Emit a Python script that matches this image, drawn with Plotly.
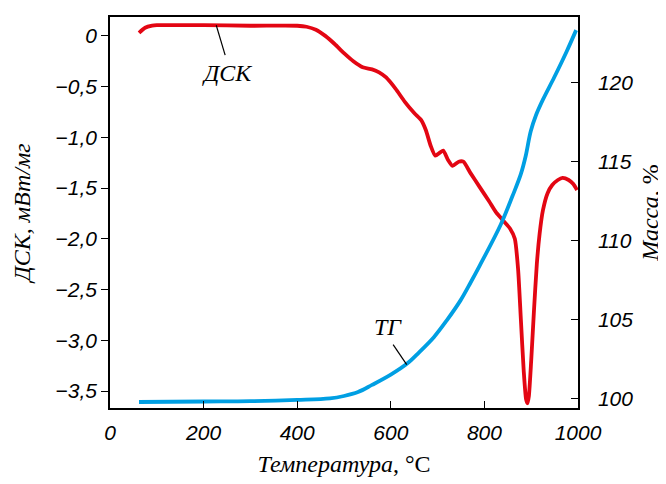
import plotly.graph_objects as go

# DSC curve (left axis), mW/mg
dsc_t = [62, 75, 90, 100, 200, 300, 400, 420, 440, 460, 480, 500, 520, 540, 560, 575, 590, 610, 630, 650, 665, 675, 685, 695, 705, 712, 722, 732, 745, 755, 770, 790, 810, 825, 840, 855, 865, 872, 878, 884, 889, 892, 895, 900, 906, 912, 918, 925, 935, 945, 957, 967, 980, 990, 998]
dsc_v = [0.03, 0.08, 0.10, 0.105, 0.105, 0.10, 0.10, 0.09, 0.06, 0.0, -0.08, -0.17, -0.25, -0.31, -0.33, -0.36, -0.41, -0.52, -0.65, -0.76, -0.83, -0.93, -1.08, -1.18, -1.15, -1.13, -1.22, -1.28, -1.24, -1.24, -1.35, -1.49, -1.63, -1.74, -1.82, -1.90, -2.00, -2.3, -2.8, -3.3, -3.58, -3.62, -3.55, -3.2, -2.7, -2.25, -1.95, -1.72, -1.55, -1.47, -1.42, -1.40, -1.42, -1.46, -1.52]

# TG curve (right axis), mass %
tg_t = [62, 200, 300, 400, 470, 500, 530, 560, 600, 635, 660, 692, 720, 749, 770, 790, 835, 860, 878, 888, 899, 910, 925, 949, 975, 996]
tg_v = [99.77, 99.8, 99.82, 99.9, 100.0, 100.15, 100.4, 100.85, 101.5, 102.2, 102.9, 103.87, 104.95, 106.2, 107.3, 108.4, 111.0, 112.8, 114.2, 115.3, 116.9, 117.9, 118.9, 120.3, 121.9, 123.3]

x_ticks = [0, 200, 400, 600, 800, 1000]
y_ticks = [0, -0.5, -1.0, -1.5, -2.0, -2.5, -3.0, -3.5]
y_labels = ["0", "−0,5", "−1,0", "−1,5", "−2,0", "−2,5", "−3,0", "−3,5"]
y2_ticks = [100, 105, 110, 115, 120]

RED = "#e30613"
BLUE = "#009fe3"

fig = go.Figure()
fig.add_trace(go.Scatter(x=dsc_t, y=dsc_v, mode="lines", line=dict(color=RED, width=3.8, shape="spline", smoothing=0.6), yaxis="y", showlegend=False))
fig.add_trace(go.Scatter(x=tg_t, y=tg_v, mode="lines", line=dict(color=BLUE, width=3.8, shape="spline", smoothing=1.0), yaxis="y2", showlegend=False))

tickfont = dict(family="Liberation Sans", size=21, color="black", style="italic")
titlefont = dict(family="Liberation Serif", size=24, color="black")

fig.update_layout(
    width=666, height=484,
    margin=dict(l=102, r=96, t=7, b=84),
    plot_bgcolor="white", paper_bgcolor="white",
    xaxis=dict(range=[0, 1000], tickvals=x_ticks, ticks="inside", ticklen=7, tickcolor="black",
               showline=True, linecolor="black", linewidth=1.5, mirror=True, showgrid=False, zeroline=False,
               tickfont=tickfont, ticklabelstandoff=5,
               title=dict(text="<i>Температура</i>, °C", font=titlefont, standoff=12)),
    yaxis=dict(range=[-3.667, 0.186], tickvals=y_ticks, ticktext=y_labels, ticks="outside", ticklen=7, tickcolor="black",
               showline=True, linecolor="black", linewidth=1.5, showgrid=False, zeroline=False,
               tickfont=tickfont, ticklabelstandoff=0,
               title=dict(text="<i>ДСК, мВт/мг</i>", font=titlefont, standoff=18)),
    yaxis2=dict(range=[99.39, 124.13], tickvals=y2_ticks, ticks="inside", ticklen=7, tickcolor="black",
                overlaying="y", side="right", showline=True, linecolor="black", linewidth=1.5,
                showgrid=False, zeroline=False, tickfont=tickfont, ticklabelstandoff=14,
                title=dict(text="<i>Масса</i>, %", font=titlefont, standoff=9)),
)

# leader lines
fig.add_shape(type="line", xref="x", yref="y", x0=227, y0=0.105, x1=246, y1=-0.19, line=dict(color="black", width=1.2))
fig.add_shape(type="line", xref="x", yref="y2", x0=605, y0=103.4, x1=634, y1=102.14, line=dict(color="black", width=1.2))

fig.add_annotation(x=250, y=-0.37, xref="x", yref="y", text="<i>ДСК</i>", showarrow=False,
                   font=dict(family="Liberation Serif", size=24, color="black"))
fig.add_annotation(x=593, y=104.5, xref="x", yref="y2", text="<i>ТГ</i>", showarrow=False,
                   font=dict(family="Liberation Serif", size=24, color="black"))

fig.write_html("out.html")
